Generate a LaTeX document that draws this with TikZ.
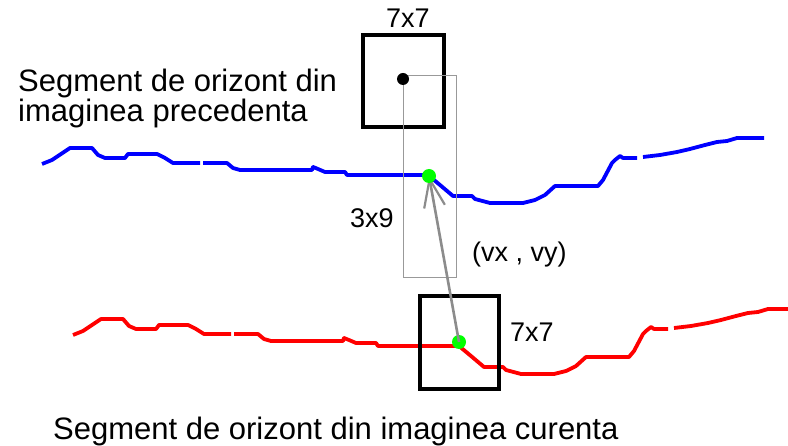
\documentclass[tikz,border=0pt]{standalone}
\usepackage{fontspec}
\setmainfont{Liberation Sans}
\usepackage{tikz}
\usetikzlibrary{arrows.meta}
\definecolor{hprev}{HTML}{0000FF}
\definecolor{hcur}{HTML}{FF0000}
\definecolor{gpunct}{HTML}{00FF00}
\definecolor{gcaut}{HTML}{999999}
\definecolor{gvec}{HTML}{8C8C8C}
\tikzset{
  orizont/.style={draw=#1, line width=3.8pt, line join=round},
  fereastra/.style={rectangle, draw=black, line width=3.8pt, inner sep=0pt},
  cautare/.style={rectangle, draw=gcaut, line width=1.4pt, inner sep=0pt},
  gpoint/.style={circle, fill=gpunct, inner sep=0pt, minimum size=14pt},
  bpoint/.style={circle, fill=black, inner sep=0pt, minimum size=12pt},
  vec/.style={-{Straight Barb[length=28pt,width=21pt,line width=2.2pt]}, line width=2.6pt, draw=gvec},
  eticheta/.style={font=\fontsize{27}{27}\selectfont, inner sep=0pt},
  titlu/.style={font=\fontsize{31}{30}\selectfont, inner sep=0pt, align=left},
}
% linia de orizont (imaginea precedenta), refolosita pentru imaginea curenta
\def\linieorizont{(42,164) -- (52,160) -- (70,148) -- (92,148) -- (98,155) -- (105,158) -- (125,158)
  -- (128,154) -- (157,154) -- (165,158) -- (173,163) -- (200,163)
  (203,163) -- (227,163) -- (233,168) -- (240,170) -- (312,170) -- (313,167) -- (318,169)
  -- (325,172) -- (345,172) -- (347,175) -- (428,175) -- (440,185) -- (453,196) -- (472,196)
  -- (475,199) -- (490,203) -- (523,203) -- (535,200) -- (545,195) -- (555,186) -- (598,186)
  -- (603,180) -- (612,163) -- (615,160) -- (620,156) -- (623,158) -- (637,158)
  (643,157) -- (660,155) -- (677,152) -- (690,149) -- (705,145) -- (717,142) -- (727,141)
  -- (737,138) -- (764,138)}

\begin{document}
\begin{tikzpicture}[x=1pt, y=-1pt]
    \useasboundingbox (0,0) rectangle (788,446);
    % liniile de orizont
    \draw[orizont=hprev] \linieorizont;
    \draw[orizont=hcur, shift={(31,171)}] \linieorizont;
    % ferestre
    \node[fereastra, minimum width=81pt, minimum height=92pt] (winprev) at (403.5,81) {};
    \node[fereastra, minimum width=79pt, minimum height=93pt] (wincur) at (459.5,342.5) {};
    \node[cautare, anchor=north west, minimum width=53pt, minimum height=202pt] (search) at (403,75) {};
    \node[bpoint] (cprev) at (403,79) {};
    % vectorul de miscare
    \node[gpoint] (gcur) at (459,342) {};
    \coordinate (vprev) at (429,176);
    \draw[vec] (gcur.center) -- (vprev);
    \node[gpoint] (gprev) at (vprev) {};
    % etichete
    \node[eticheta, anchor=base] (lprev) at (408,28) {7x7};
    \node[eticheta, anchor=base west] (lsearch) at (350,228) {3x9};
    \node[eticheta, anchor=base west] (lvec) at (472,262) {(vx , vy)};
    \node[eticheta, anchor=base west] (lcur) at (510,342) {7x7};
    \node[titlu, anchor=base west] (tprev) at (18,122) {Segment de orizont din\\imaginea precedenta};
    \node[titlu, anchor=base west] (tcur) at (53,440) {Segment de orizont din imaginea curenta};
\end{tikzpicture}
\end{document}
